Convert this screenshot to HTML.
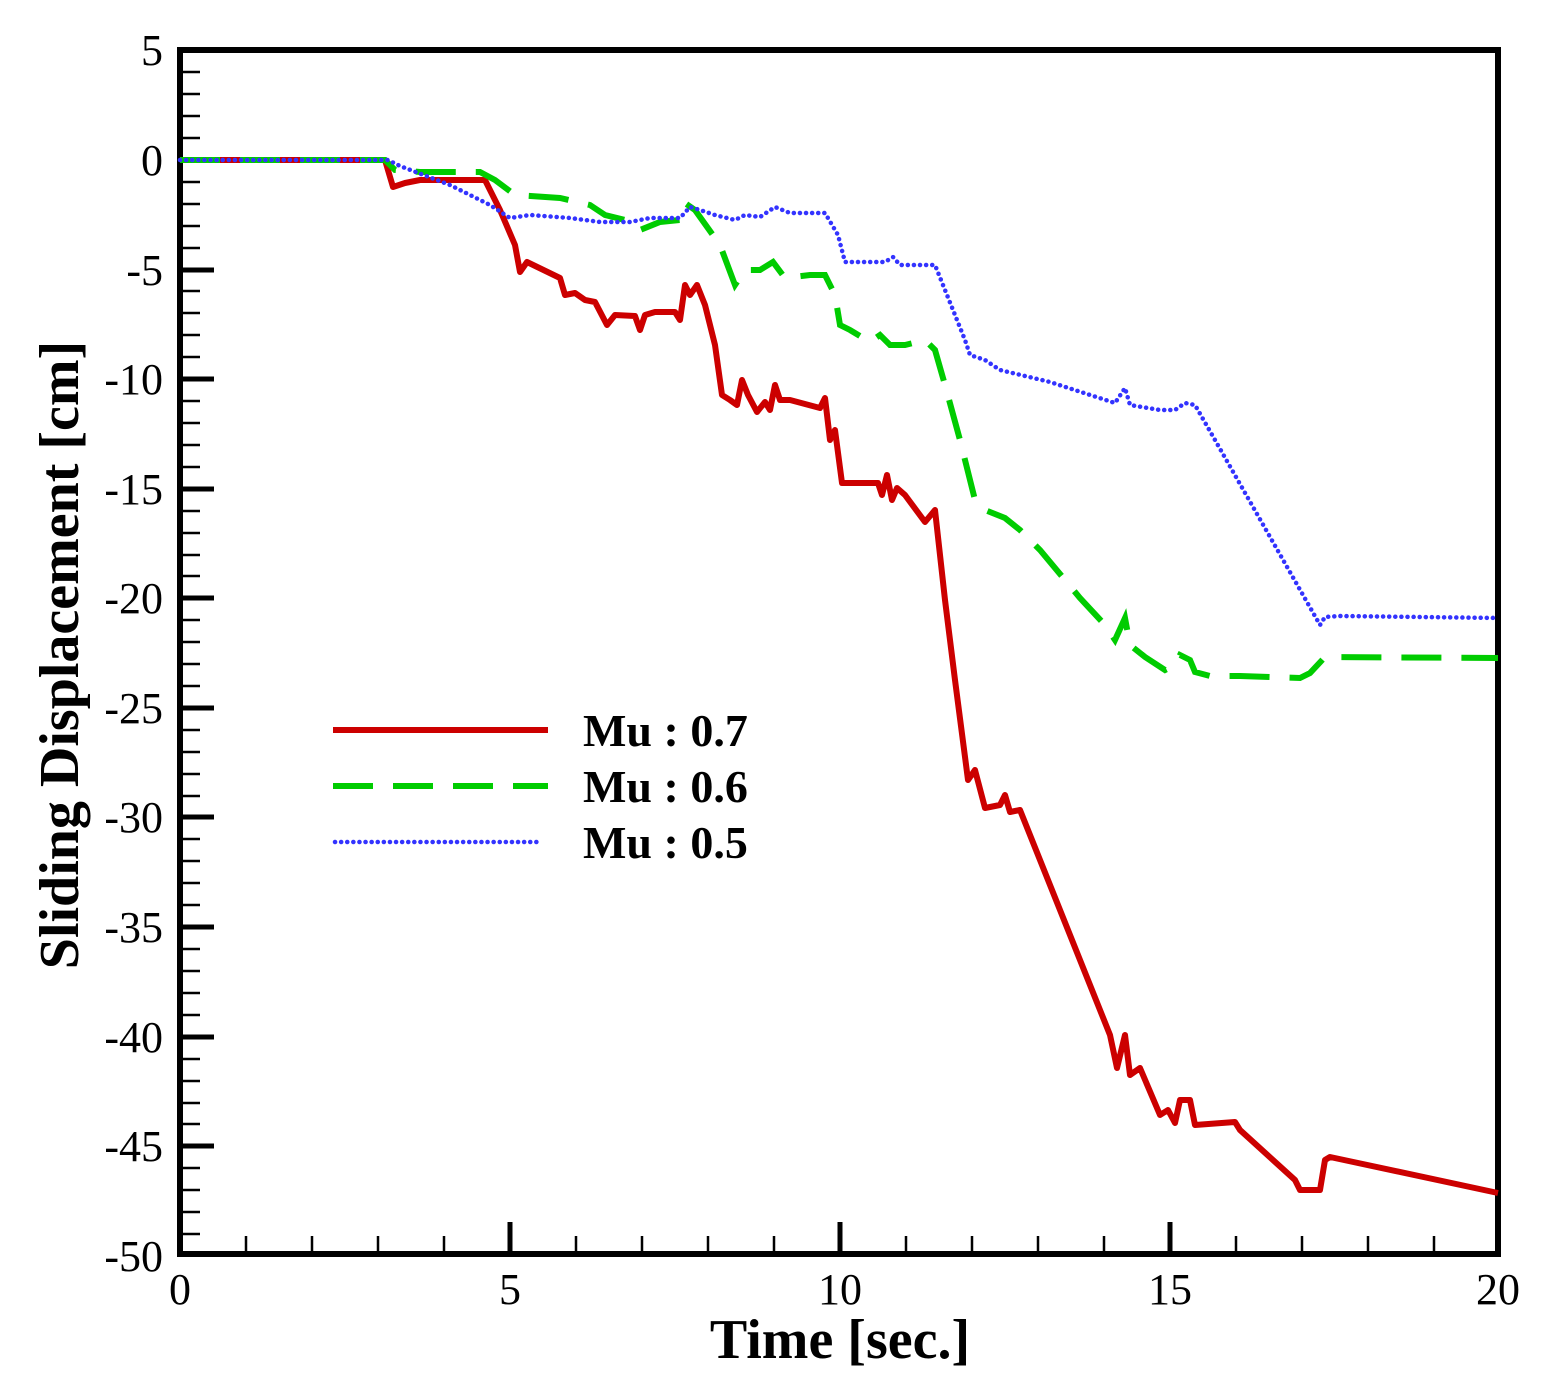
<!DOCTYPE html>
<html><head><meta charset="utf-8"><style>body{margin:0;background:#fff}</style></head><body>
<svg width="1541" height="1384" xmlns="http://www.w3.org/2000/svg" font-family="Liberation Serif, serif">
<rect width="1541" height="1384" fill="#fff"/>
<g stroke="#000" stroke-width="2.5">
<path d="M180 1254v-18M246 1254v-18M312 1254v-18M378 1254v-18M444 1254v-18M576 1254v-18M642 1254v-18M708 1254v-18M774 1254v-18M906 1254v-18M972 1254v-18M1038 1254v-18M1104 1254v-18M1236 1254v-18M1302 1254v-18M1368 1254v-18M1434 1254v-18"/>
<path d="M180 72h20M180 94h20M180 116h20M180 138h20M180 182h20M180 204h20M180 226h20M180 248h20M180 291h20M180 313h20M180 335h20M180 357h20M180 401h20M180 423h20M180 445h20M180 467h20M180 511h20M180 533h20M180 555h20M180 576h20M180 620h20M180 642h20M180 664h20M180 686h20M180 730h20M180 752h20M180 774h20M180 796h20M180 839h20M180 861h20M180 883h20M180 905h20M180 949h20M180 971h20M180 993h20M180 1015h20M180 1059h20M180 1081h20M180 1103h20M180 1124h20M180 1168h20M180 1190h20M180 1212h20M180 1234h20"/>
</g>
<g stroke="#000" stroke-width="5">
<path d="M510 1254v-32M840 1254v-32M1170 1254v-32"/>
<path d="M180 160h34M180 270h34M180 379h34M180 489h34M180 598h34M180 708h34M180 817h34M180 927h34M180 1037h34M180 1146h34"/>
</g>
<rect x="180" y="50" width="1318" height="1204" fill="none" stroke="#000" stroke-width="6"/>
<g font-size="44" text-anchor="end">
<text x="163" y="65">5</text><text x="163" y="175">0</text><text x="163" y="285">-5</text><text x="163" y="394">-10</text><text x="163" y="504">-15</text><text x="163" y="613">-20</text><text x="163" y="723">-25</text><text x="163" y="832">-30</text><text x="163" y="942">-35</text><text x="163" y="1052">-40</text><text x="163" y="1161">-45</text><text x="163" y="1271">-50</text>
</g>
<g font-size="44" text-anchor="middle">
<text x="180" y="1304">0</text><text x="510" y="1304">5</text><text x="840" y="1304">10</text><text x="1170" y="1304">15</text><text x="1498" y="1304">20</text>
</g>
<text x="840" y="1358" font-size="56" font-weight="bold" text-anchor="middle">Time [sec.]</text>
<text transform="translate(78,655) rotate(-90)" font-size="56" font-weight="bold" text-anchor="middle">Sliding Displacement [cm]</text>
<polyline fill="none" stroke="#cc0000" stroke-width="6" stroke-linejoin="round" points="180,160 385,160 393,187 405,183 420,180 485,180 500,210 515,245 520,272 527,262 560,278 565,295 575,293 585,300 595,302 607,325 615,315 635,316 640,330 645,315 655,312 675,312 680,320 685,285 690,295 697,285 705,305 715,345 722,395 730,400 737,405 742,380 748,395 757,412 765,402 770,410 775,385 780,400 790,400 820,408 825,398 830,440 835,430 842,483 878,483 882,495 887,475 892,500 897,488 905,495 925,522 935,510 945,600 955,680 968,780 975,770 985,808 1000,805 1005,795 1010,812 1020,810 1110,1035 1117,1068 1125,1035 1130,1075 1140,1068 1160,1115 1168,1110 1175,1123 1180,1100 1190,1100 1195,1125 1235,1122 1240,1130 1295,1180 1300,1190 1320,1190 1325,1160 1330,1157 1498,1193"/>
<polyline fill="none" stroke="#00cc00" stroke-width="6" stroke-dasharray="40,20" points="180,160 385,160 395,170 420,172 480,172 495,180 515,195 560,198 590,205 605,215 625,220 640,230 660,222 680,220 685,203 695,210 720,245 735,285 745,270 760,270 773,262 785,278 810,275 825,275 835,295 840,325 850,330 870,342 880,335 890,345 905,345 925,340 935,350 945,385 960,440 975,500 985,510 1005,518 1020,530 1040,550 1080,598 1105,625 1115,640 1125,618 1130,645 1145,657 1165,670 1175,665 1180,655 1190,660 1195,672 1210,676 1240,676 1300,678 1310,673 1325,657 1498,658"/>
<polyline fill="none" stroke="#3333ff" stroke-width="4.5" stroke-linecap="round" stroke-dasharray="0.1,6" points="180,160 388,160 400,166 450,185 490,205 510,218 530,215 570,218 600,222 630,222 650,218 680,218 690,207 700,210 715,215 735,220 745,215 760,217 775,207 790,213 825,213 838,235 845,262 885,262 893,257 900,265 935,265 945,290 965,340 970,355 985,360 1000,370 1050,382 1115,403 1125,388 1130,405 1160,410 1175,410 1185,403 1195,405 1215,440 1320,625 1325,617 1340,616 1498,618"/>
<line x1="333" y1="730" x2="548" y2="730" stroke="#cc0000" stroke-width="6"/>
<line x1="333" y1="786" x2="548" y2="786" stroke="#00cc00" stroke-width="6" stroke-dasharray="40,20"/>
<line x1="335" y1="842" x2="542" y2="842" stroke="#3333ff" stroke-width="4.5" stroke-linecap="round" stroke-dasharray="0.1,6"/>
<g font-size="46" font-weight="bold">
<text x="583" y="746">Mu : 0.7</text><text x="583" y="802">Mu : 0.6</text><text x="583" y="858">Mu : 0.5</text>
</g>
</svg>
</body></html>
